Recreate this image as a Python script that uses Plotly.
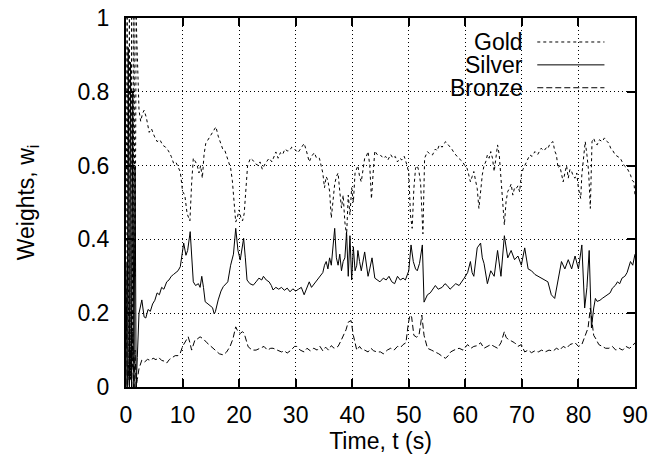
import plotly.graph_objects as go

# ---------------- data ----------------
silver_t = [0, 0.2, 0.4, 0.6, 0.8, 1.0, 1.2, 1.4, 1.6, 1.8, 2.0, 2.3,
            2.8, 3.2, 3.5, 3.9, 4.3, 4.7, 5.1, 5.5, 5.9, 6.3, 6.7, 7.2, 7.6, 8.0, 8.4, 8.8, 9.2, 9.6, 10.0, 10.2, 10.6, 10.9, 11.35, 11.9, 12.3, 12.8, 13.1, 13.4, 13.7, 14.0, 14.5, 14.9, 15.3, 15.6, 15.8, 16.3, 16.8, 17.2, 17.6, 18.0, 18.5, 19.0, 19.4, 19.8, 20.2, 20.5, 20.8, 21.1, 21.4, 21.9, 22.5, 23.0, 23.5, 24.0, 24.3, 24.8, 25.3, 25.7, 26.0, 26.5, 27.0, 27.5, 28.0, 28.5, 29.0, 29.5, 30.0,
            30.5, 31.0, 31.5, 32.0, 32.4, 32.8, 33.3, 33.8, 34.2, 34.8, 35.1, 35.4, 35.7, 36.0, 36.3, 36.6, 36.9, 37.2, 37.5, 37.8, 38.1, 38.4, 38.7, 39.0, 39.3, 39.6, 39.9, 40.2, 40.5, 40.8, 41.0, 41.3, 41.6, 42.2, 42.5, 42.8, 43.1, 43.5, 44.0, 44.5, 44.9, 45.5, 46.0, 46.5, 47.0, 47.5, 48.0, 48.5, 49.0, 49.4, 50.0, 50.4, 50.8, 51.2, 51.5, 51.9, 52.4, 52.7, 53.0, 53.3, 53.8, 54.2, 54.7, 55.2, 55.9, 56.4, 56.8, 57.3, 57.7, 58.3, 58.9, 59.4, 59.8, 60.4,
            60.9, 61.2, 61.5, 62.1, 62.7, 63.0, 63.3, 63.9, 64.5, 65.1, 65.7, 66.3, 66.9, 67.5, 68.1, 68.7, 69.3, 69.9, 70.5, 71.1, 71.7, 72.3, 72.9, 73.5, 74.1, 74.6, 75.2, 75.8, 76.4, 77.0, 77.6, 78.2, 78.8, 79.4, 80.0, 80.6, 81.1, 81.5, 81.9, 82.3, 82.7, 83.0, 83.3, 83.8, 84.2, 84.7, 85.1, 85.6, 86.0, 86.5, 86.9, 87.3, 87.7, 88.2, 88.6, 89.2, 89.6, 90.0]
silver_w = [0.33, 0.0, 0.92, 0.0, 0.88, 0.0, 0.8, 0.0, 0.6, 0.0, 0.08, 0.2,
            0.236, 0.19, 0.187, 0.21, 0.205, 0.225, 0.235, 0.255, 0.25, 0.27, 0.265, 0.285, 0.29, 0.30, 0.305, 0.31, 0.315, 0.326, 0.375, 0.39, 0.357, 0.37, 0.421, 0.285, 0.275, 0.28, 0.27, 0.30, 0.27, 0.231, 0.225, 0.22, 0.215, 0.198, 0.204, 0.236, 0.26, 0.272, 0.28, 0.285, 0.33, 0.36, 0.43, 0.37, 0.344, 0.38, 0.403, 0.35, 0.29, 0.28, 0.276, 0.285, 0.295, 0.29, 0.30, 0.29, 0.285, 0.275, 0.263, 0.27, 0.265, 0.27, 0.262, 0.268, 0.258, 0.266, 0.26,
            0.265, 0.27, 0.25, 0.27, 0.285, 0.27, 0.28, 0.29, 0.30, 0.31, 0.33, 0.34, 0.32, 0.35, 0.33, 0.392, 0.43, 0.35, 0.33, 0.36, 0.315, 0.34, 0.35, 0.42, 0.30, 0.41, 0.29, 0.38, 0.315, 0.33, 0.37, 0.34, 0.315, 0.366, 0.33, 0.30, 0.32, 0.35, 0.295, 0.29, 0.285, 0.295, 0.29, 0.30, 0.285, 0.28, 0.30, 0.29, 0.295, 0.29, 0.315, 0.385, 0.34, 0.32, 0.315, 0.335, 0.385, 0.23, 0.24, 0.25, 0.255, 0.265, 0.275, 0.265, 0.27, 0.28, 0.275, 0.265, 0.27, 0.28, 0.275, 0.285, 0.295, 0.31,
            0.34, 0.31, 0.30, 0.377, 0.39, 0.35, 0.335, 0.28, 0.315, 0.30, 0.37, 0.30, 0.41, 0.35, 0.37, 0.345, 0.355, 0.33, 0.377, 0.32, 0.315, 0.305, 0.30, 0.295, 0.29, 0.285, 0.25, 0.24, 0.29, 0.34, 0.32, 0.345, 0.32, 0.355, 0.32, 0.385, 0.214, 0.27, 0.37, 0.16, 0.214, 0.24, 0.232, 0.235, 0.24, 0.245, 0.25, 0.255, 0.268, 0.275, 0.285, 0.28, 0.295, 0.30, 0.31, 0.34, 0.33, 0.36]

bronze_t = [0, 0.2, 0.4, 0.6, 0.8, 1.0, 1.2, 1.4, 1.6, 1.8, 2.0, 2.3,
            2.8, 3.3, 3.8, 4.3, 4.8, 5.3, 5.8, 6.3, 6.8, 7.2, 7.7, 8.2, 8.7, 9.2, 9.6, 10.0, 10.4, 11.0, 11.3, 11.6, 12.2, 12.6, 13.1, 13.7, 14.3, 15.0, 15.8, 16.5, 17.2, 17.8, 18.4, 18.9, 19.4, 19.8, 20.2, 20.6, 20.9, 21.3, 21.6, 22.3, 23.0, 23.7, 24.4, 25.0, 25.6, 26.0, 26.8, 27.5, 28.0, 28.5, 29.2, 29.8, 30.2,
            30.8, 31.5, 32.0, 32.6, 33.2, 33.8, 34.3, 34.8, 35.3, 35.8, 36.3, 36.8, 37.5, 38.0, 38.4, 38.9, 39.3, 39.8, 40.2, 40.5, 40.8, 41.3, 41.8, 42.2, 42.8, 43.3, 43.8, 44.4, 45.0, 45.5, 46.2, 46.8, 47.4, 48.0, 48.6, 49.0, 49.5, 49.9, 50.2, 50.5, 50.9, 51.4, 51.8, 52.1, 52.3, 52.7, 53.0, 53.3, 54.0, 54.7, 55.3, 56.0, 56.5, 57.0, 57.4, 58.0, 58.9, 59.6, 60.4,
            61.0, 61.5, 62.1, 62.7, 63.3, 63.9, 64.5, 65.1, 65.7, 66.3, 66.9, 67.2, 67.5, 68.1, 68.7, 69.3, 69.9, 70.5, 71.1, 71.7, 72.3, 72.9, 73.5, 74.1, 74.8, 75.5, 76.1, 76.7, 77.3, 77.9, 78.5, 79.4, 80.0, 80.6, 81.2, 81.7, 82.1, 82.5, 82.7, 83.1, 83.6, 84.2, 84.8, 85.4, 86.0, 86.6, 87.2, 87.8, 88.4, 89.0, 89.5, 90.0]
bronze_w = [0.34, 0.0, 0.06, 0.0, 0.1, 0.0, 0.15, 0.0, 0.1, 0.0, 0.02, 0.05,
            0.073, 0.068, 0.075, 0.072, 0.078, 0.074, 0.08, 0.072, 0.07, 0.065, 0.075, 0.08, 0.085, 0.085, 0.092, 0.11, 0.119, 0.136, 0.12, 0.10, 0.128, 0.13, 0.136, 0.13, 0.12, 0.11, 0.10, 0.09, 0.087, 0.095, 0.11, 0.13, 0.163, 0.15, 0.145, 0.15, 0.145, 0.12, 0.109, 0.10, 0.10, 0.105, 0.11, 0.10, 0.105, 0.105, 0.10, 0.095, 0.098, 0.092, 0.10, 0.11, 0.11,
            0.10, 0.095, 0.105, 0.098, 0.105, 0.10, 0.11, 0.098, 0.108, 0.10, 0.112, 0.105, 0.11, 0.125, 0.14, 0.155, 0.176, 0.18, 0.14, 0.12, 0.10, 0.11, 0.10, 0.10, 0.095, 0.105, 0.098, 0.095, 0.095, 0.09, 0.10, 0.105, 0.10, 0.11, 0.108, 0.115, 0.12, 0.17, 0.195, 0.19, 0.14, 0.135, 0.14, 0.17, 0.195, 0.14, 0.12, 0.105, 0.10, 0.095, 0.09, 0.082, 0.078, 0.085, 0.095, 0.10, 0.105, 0.10, 0.115,
            0.105, 0.11, 0.112, 0.12, 0.105, 0.11, 0.115, 0.11, 0.105, 0.12, 0.15, 0.135, 0.13, 0.125, 0.12, 0.11, 0.115, 0.095, 0.10, 0.093, 0.098, 0.095, 0.10, 0.095, 0.10, 0.097, 0.105, 0.10, 0.11, 0.105, 0.115, 0.12, 0.11, 0.115, 0.14, 0.16, 0.214, 0.17, 0.14, 0.13, 0.115, 0.11, 0.105, 0.105, 0.11, 0.10, 0.105, 0.10, 0.11, 0.105, 0.11, 0.12]

gold_t = [0, 0.2, 0.4, 0.6, 0.8, 1.0, 1.2, 1.4, 1.6, 1.8, 2.0, 2.3,
          2.6, 2.9, 3.2, 3.6, 4.1, 4.5, 5.0, 5.5, 6.0, 6.5, 7.0, 7.5, 8.0, 8.4, 8.8, 9.2, 9.6, 10.0, 10.4, 10.8, 11.0, 11.3, 11.6, 11.9, 12.3, 12.6, 12.9, 13.2, 13.5, 13.8, 14.1, 14.5, 14.9, 15.3, 15.6, 15.9, 16.3, 16.7, 17.1, 17.5, 17.9, 18.5, 18.8, 19.1, 19.4, 19.7, 20.0, 20.3, 20.6, 20.9, 21.2, 21.5, 22.0, 22.4, 22.9, 23.4, 23.7, 24.1, 24.6, 25.0, 25.3, 25.8, 26.2, 26.5, 26.9, 27.3, 27.7, 28.1, 28.5, 28.9, 29.3, 29.8, 30.4,
          30.8, 31.2, 31.5, 31.9, 32.4, 32.8, 33.3, 33.7, 34.2, 34.5, 34.8, 35.1, 35.4, 35.7, 36.0, 36.3, 36.6, 36.9, 37.2, 37.5, 37.8, 38.1, 38.4, 38.7, 39.0, 39.3, 39.6, 39.9, 40.2, 40.5, 41.0, 41.3, 41.6, 41.9, 42.2, 42.5, 42.8, 43.1, 43.4, 43.7, 44.0, 44.4, 44.9, 45.5, 45.9, 46.3, 46.8, 47.2, 47.6, 48.0, 48.4, 48.8, 49.2, 49.7, 50.0, 50.3, 50.6, 50.9, 51.2, 51.5, 51.8, 52.1, 52.3, 52.5, 52.8, 53.3, 53.8, 54.2, 54.7, 55.0, 55.4, 55.9, 56.5, 56.8, 57.1, 57.6, 58.0, 58.3, 58.8, 59.2, 59.5, 59.9, 60.3,
          60.6, 60.9, 61.2, 61.5, 61.8, 62.1, 62.4, 62.7, 63.0, 63.3, 63.6, 63.9, 64.2, 64.5, 64.8, 65.1, 65.4, 65.7, 66.0, 66.4, 66.7, 66.9, 67.2, 67.5, 67.8, 68.1, 68.4, 68.7, 69.0, 69.3, 69.6, 69.9, 70.2, 70.5, 70.9, 71.4, 71.8, 72.3, 72.8, 73.4, 73.9, 74.4, 74.6, 75.0, 75.5, 75.8, 76.1, 76.4, 76.7, 77.0, 77.3, 77.6, 77.9, 78.2, 78.5, 78.8, 79.1, 79.4, 79.7, 80.0, 80.4, 80.6, 80.9, 81.2, 81.5, 81.8, 82.1, 82.4, 82.7, 83.0, 83.3, 83.7, 84.2, 84.6, 85.1, 85.4, 85.7, 86.1, 86.5, 87.0, 87.4, 87.7, 88.1, 88.6, 88.9, 89.2, 89.5, 89.8, 90.0]
gold_w = [0.33, 1.0, 0.02, 1.0, 0.02, 1.0, 0.05, 1.0, 0.3, 1.0, 0.9, 0.75,
          0.72, 0.74, 0.75, 0.73, 0.69, 0.70, 0.68, 0.665, 0.67, 0.655, 0.65, 0.64, 0.625, 0.607, 0.61, 0.595, 0.583, 0.53, 0.52, 0.47, 0.46, 0.45, 0.55, 0.62, 0.61, 0.60, 0.58, 0.60, 0.566, 0.63, 0.66, 0.67, 0.68, 0.69, 0.70, 0.705, 0.68, 0.66, 0.645, 0.64, 0.62, 0.593, 0.56, 0.50, 0.447, 0.46, 0.48, 0.46, 0.45, 0.47, 0.54, 0.60, 0.62, 0.615, 0.605, 0.60, 0.61, 0.59, 0.605, 0.615, 0.62, 0.61, 0.625, 0.637, 0.62, 0.635, 0.63, 0.645, 0.64, 0.64, 0.65, 0.645, 0.635,
          0.645, 0.655, 0.66, 0.64, 0.61, 0.625, 0.635, 0.62, 0.62, 0.60, 0.58, 0.54, 0.57, 0.56, 0.53, 0.458, 0.50, 0.55, 0.57, 0.58, 0.53, 0.485, 0.52, 0.447, 0.41, 0.52, 0.466, 0.54, 0.50, 0.58, 0.60, 0.57, 0.556, 0.59, 0.62, 0.625, 0.638, 0.60, 0.51, 0.58, 0.64, 0.63, 0.63, 0.62, 0.625, 0.615, 0.63, 0.62, 0.625, 0.61, 0.62, 0.615, 0.625, 0.60, 0.58, 0.466, 0.43, 0.538, 0.593, 0.60, 0.584, 0.55, 0.45, 0.415, 0.62, 0.638, 0.63, 0.629, 0.645, 0.64, 0.656, 0.65, 0.665, 0.66, 0.656, 0.645, 0.635, 0.629, 0.62, 0.615, 0.611, 0.60, 0.593,
          0.575, 0.556, 0.57, 0.584, 0.56, 0.538, 0.484, 0.53, 0.575, 0.60, 0.61, 0.629, 0.62, 0.638, 0.62, 0.584, 0.62, 0.656, 0.629, 0.538, 0.48, 0.439, 0.502, 0.53, 0.538, 0.55, 0.52, 0.54, 0.538, 0.545, 0.529, 0.575, 0.59, 0.60, 0.61, 0.629, 0.625, 0.638, 0.63, 0.647, 0.64, 0.65, 0.647, 0.66, 0.665, 0.64, 0.629, 0.593, 0.60, 0.575, 0.556, 0.58, 0.60, 0.566, 0.59, 0.584, 0.57, 0.566, 0.58, 0.538, 0.511, 0.575, 0.62, 0.665, 0.629, 0.584, 0.484, 0.665, 0.674, 0.66, 0.656, 0.67, 0.665, 0.675, 0.665, 0.66, 0.647, 0.64, 0.629, 0.625, 0.62, 0.611, 0.60, 0.593, 0.585, 0.575, 0.56, 0.556, 0.52]

series_names = ["Gold", "Silver", "Bronze"]
x_ticks = [0, 10, 20, 30, 40, 50, 60, 70, 80, 90]
y_ticks = [0, 0.2, 0.4, 0.6, 0.8, 1]
y_tick_text = ["0", "0.2", "0.4", "0.6", "0.8", "1"]

# ---------------- styling ----------------
FONT = "Liberation Sans, Arial, sans-serif"
FS = 23
dash_styles = {"Gold": "3px,3px", "Silver": "solid", "Bronze": "6px,3px"}

fig = go.Figure()
for name, t, w in [("Gold", gold_t, gold_w), ("Silver", silver_t, silver_w), ("Bronze", bronze_t, bronze_w)]:
    fig.add_trace(go.Scatter(x=t, y=w, mode="lines", name=name, showlegend=False,
                             line=dict(color="black", width=1, dash=dash_styles[name])))

# gnuplot-style key: text right-aligned with sample on the right
key_y = [0.935, 0.873, 0.811]
fig.add_shape(type="rect", xref="paper", yref="paper", x0=0.613, x1=0.968, y0=0.78, y1=0.995,
              fillcolor="white", line=dict(width=0), layer="between")
for name, ky in zip(series_names, key_y):
    fig.add_annotation(x=0.781, y=ky, xref="paper", yref="paper", text=name, showarrow=False,
                       xanchor="right", yanchor="middle", height=22, borderpad=0, valign="middle",
                       font=dict(family=FONT, size=FS, color="black"))
    fig.add_shape(type="line", xref="paper", yref="paper", x0=0.808, x1=0.94, y0=ky, y1=ky,
                  line=dict(color="black", width=1, dash=dash_styles[name]), layer="above")

axis_common = dict(showline=True, linecolor="black", linewidth=2, mirror="ticks",
                   ticks="inside", ticklen=8, tickwidth=1.5, tickcolor="black",
                   showgrid=True, gridcolor="black", gridwidth=1, griddash="1px,3px",
                   zeroline=False, ticklabeloverflow="allow",
                   tickfont=dict(family=FONT, size=FS, color="black"))

fig.update_xaxes(range=[0, 90], tickvals=x_ticks, **axis_common,
                 title=dict(text="Time, t (s)", font=dict(family=FONT, size=FS, color="black"), standoff=6),
                 ticklabelstandoff=6)
fig.update_yaxes(range=[0, 1], tickvals=y_ticks, ticktext=y_tick_text, **axis_common,
                 title=dict(text="Weights, w<sub>i</sub>", font=dict(family=FONT, size=FS, color="black"), standoff=36),
                 ticklabelstandoff=10)

# the page body adds an 8px margin, so the figure is sized to fit the 670x466 window
fig.update_layout(width=654, height=450, margin=dict(l=118, r=27, t=10, b=71, autoexpand=False),
                  plot_bgcolor="white", paper_bgcolor="white", showlegend=False,
                  font=dict(family=FONT, size=FS, color="black"))

fig.write_html("out.html")
